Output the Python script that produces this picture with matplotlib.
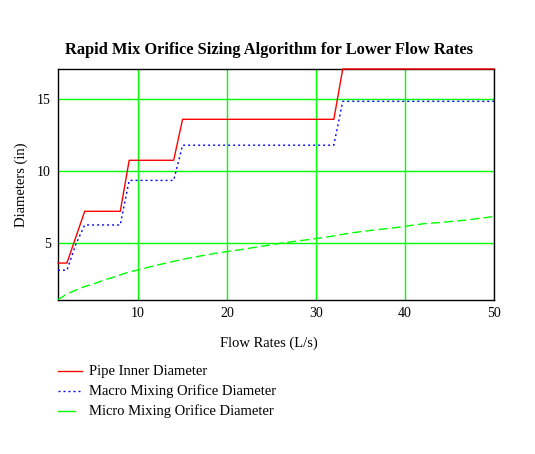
import matplotlib
matplotlib.use("Agg")
import matplotlib.pyplot as plt

flow = list(range(1, 51))

pipe_inner = [3.6, 3.6, 5.4, 7.2, 7.2, 7.2, 7.2, 7.2,
              10.75, 10.75, 10.75, 10.75, 10.75, 10.75,
              13.6, 13.6, 13.6, 13.6, 13.6, 13.6, 13.6, 13.6, 13.6,
              13.6, 13.6, 13.6, 13.6, 13.6, 13.6, 13.6, 13.6, 13.6,
              17.1, 17.1, 17.1, 17.1, 17.1, 17.1, 17.1, 17.1, 17.1,
              17.1, 17.1, 17.1, 17.1, 17.1, 17.1, 17.1, 17.1, 17.1]

macro_orifice = [3.1, 3.1, 4.9, 6.25, 6.25, 6.25, 6.25, 6.25,
                 9.35, 9.35, 9.35, 9.35, 9.35, 9.35,
                 11.8, 11.8, 11.8, 11.8, 11.8, 11.8, 11.8, 11.8, 11.8,
                 11.8, 11.8, 11.8, 11.8, 11.8, 11.8, 11.8, 11.8, 11.8,
                 14.85, 14.85, 14.85, 14.85, 14.85, 14.85, 14.85, 14.85, 14.85,
                 14.85, 14.85, 14.85, 14.85, 14.85, 14.85, 14.85, 14.85, 14.85]

micro_orifice = [1.05, 1.45, 1.72, 1.97, 2.15, 2.38, 2.57, 2.78, 2.98, 3.12,
                 3.28, 3.44, 3.58, 3.72, 3.86, 3.98, 4.09, 4.20, 4.31, 4.40,
                 4.48, 4.58, 4.68, 4.78, 4.88, 4.98, 5.06, 5.14, 5.22, 5.30,
                 5.39, 5.49, 5.60, 5.70, 5.78, 5.86, 5.93, 6.00, 6.07, 6.15,
                 6.25, 6.33, 6.38, 6.42, 6.48, 6.54, 6.60, 6.68, 6.76, 6.84]

x_ticks = [10, 20, 30, 40, 50]
y_ticks = [5, 10, 15]
series_labels = ["Pipe Inner Diameter", "Macro Mixing Orifice Diameter",
                 "Micro Mixing Orifice Diameter"]

plt.rcParams['font.family'] = ['Liberation Serif', 'DejaVu Serif']

fig = plt.figure(figsize=(5.35, 4.54), dpi=100)
ax = fig.add_axes([58/535, 1-300/454, (494-58)/535, (300-69)/454])

GREEN = "#00ff00"
DOT = (0, (1.44, 2.16))
DASH = (0, (6.5, 3))
ax.set_xlim(1, 50)
ax.set_ylim(1.03, 17.1)
ax.set_xticks(x_ticks)
ax.set_yticks(y_ticks)
ax.grid(True, color=GREEN, linewidth=1.0)
ax.set_axisbelow(True)
ax.tick_params(length=0, labelsize=10, pad=5)
for s in ax.spines.values():
    s.set_linewidth(1.0)
    s.set_color("black")

ax.plot(flow, pipe_inner, color="#ff0000", lw=1.0, clip_on=False, zorder=3)
ax.plot(flow, macro_orifice, color="#0000ff", lw=1.0, linestyle=DOT, zorder=3)
ax.plot(flow, micro_orifice, color=GREEN, lw=1.0, linestyle=DASH, zorder=3)

fig.text(269/535, 1-50/454, "Rapid Mix Orifice Sizing Algorithm for Lower Flow Rates",
         ha="center", va="center", fontsize=11.8, fontweight="bold")
fig.text(269/535, 1-343/454, "Flow Rates (L/s)", ha="center", va="center", fontsize=10.5)
fig.text(21/535, 1-185/454, "Diameters (in)", ha="center", va="center",
         rotation=90, fontsize=10.5)

rows = [371, 391, 411]
styles = [(82, dict(color="#ff0000", lw=1.0, linestyle="-")),
          (82, dict(color="#0000ff", lw=1.0, linestyle=DOT)),
          (75, dict(color=GREEN, lw=1.0, linestyle="-"))]
for yy, lab, (xe, st) in zip(rows, series_labels, styles):
    fy = 1 - yy/454
    fig.add_artist(plt.Line2D([58/535, xe/535], [fy, fy], transform=fig.transFigure, **st))
    fig.text(89/535, fy, lab, ha="left", va="center", fontsize=10.5)

fig.savefig("out.png", dpi=100)
